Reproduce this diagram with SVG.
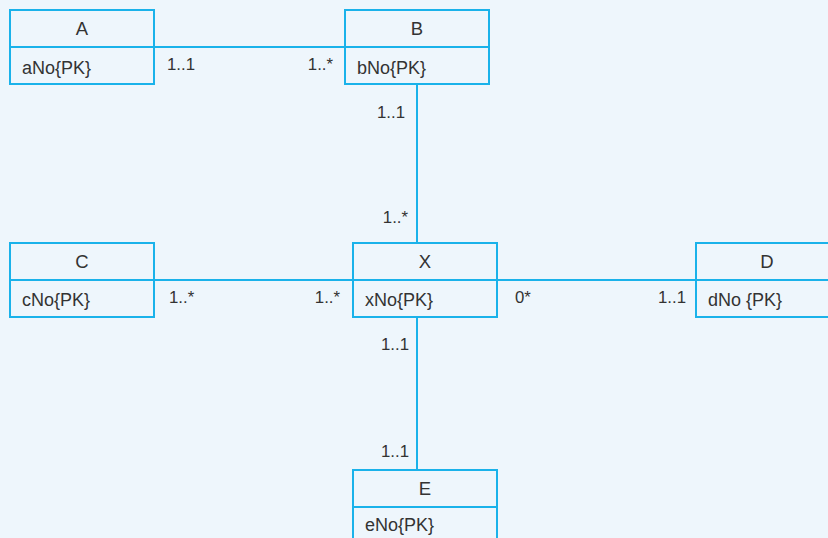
<svg xmlns="http://www.w3.org/2000/svg" width="828" height="538" viewBox="0 0 828 538">
<style>
.box{fill:none;stroke:#1ab2ea;stroke-width:2}
.ln{stroke:#1ab2ea;stroke-width:2;fill:none}
text{font-family:"Liberation Sans",Arial,sans-serif;fill:#333333}
.t{font-size:18.5px;text-anchor:middle}
.a{font-size:18px}
.m{font-size:16.8px}
.e{text-anchor:end}
</style>
<rect width="828" height="538" fill="#eef6fc"/>
<g id="connectors">
<line class="ln" x1="154" y1="47" x2="345" y2="47"/>
<line class="ln" x1="417" y1="84" x2="417" y2="243"/>
<line class="ln" x1="154" y1="280" x2="353" y2="280"/>
<line class="ln" x1="497" y1="280" x2="696" y2="280"/>
<line class="ln" x1="417" y1="317" x2="417" y2="470"/>
<text class="m" x="167" y="70">1..1</text>
<text class="m e" x="333" y="70">1..*</text>
<text class="m e" x="405" y="118">1..1</text>
<text class="m e" x="408" y="223">1..*</text>
<text class="m" x="169" y="303">1..*</text>
<text class="m e" x="340" y="303">1..*</text>
<text class="m" x="515" y="303">0*</text>
<text class="m e" x="686" y="303">1..1</text>
<text class="m e" x="409" y="350">1..1</text>
<text class="m e" x="409" y="457">1..1</text>
</g>
<g id="A">
<rect class="box" x="10" y="10" width="144" height="74"/>
<line class="ln" x1="10" y1="47" x2="154" y2="47"/>
<text class="t" x="82" y="35">A</text>
<text class="a" x="22" y="74">aNo{PK}</text>
</g>
<g id="B">
<rect class="box" x="345" y="10" width="144" height="74"/>
<line class="ln" x1="345" y1="47" x2="489" y2="47"/>
<text class="t" x="417" y="35">B</text>
<text class="a" x="357" y="74">bNo{PK}</text>
</g>
<g id="C">
<rect class="box" x="10" y="243" width="144" height="74"/>
<line class="ln" x1="10" y1="280" x2="154" y2="280"/>
<text class="t" x="82" y="268">C</text>
<text class="a" x="22" y="306">cNo{PK}</text>
</g>
<g id="X">
<rect class="box" x="353" y="243" width="144" height="74"/>
<line class="ln" x1="353" y1="280" x2="497" y2="280"/>
<text class="t" x="425" y="268">X</text>
<text class="a" x="365" y="306">xNo{PK}</text>
</g>
<g id="D">
<rect class="box" x="696" y="243" width="144" height="74"/>
<line class="ln" x1="696" y1="280" x2="840" y2="280"/>
<text class="t" x="767" y="268">D</text>
<text class="a" x="708" y="306">dNo {PK}</text>
</g>
<g id="E">
<rect class="box" x="353" y="470" width="144" height="74"/>
<line class="ln" x1="353" y1="507" x2="497" y2="507"/>
<text class="t" x="425" y="495">E</text>
<text class="a" x="365" y="531">eNo{PK}</text>
</g>
</svg>
